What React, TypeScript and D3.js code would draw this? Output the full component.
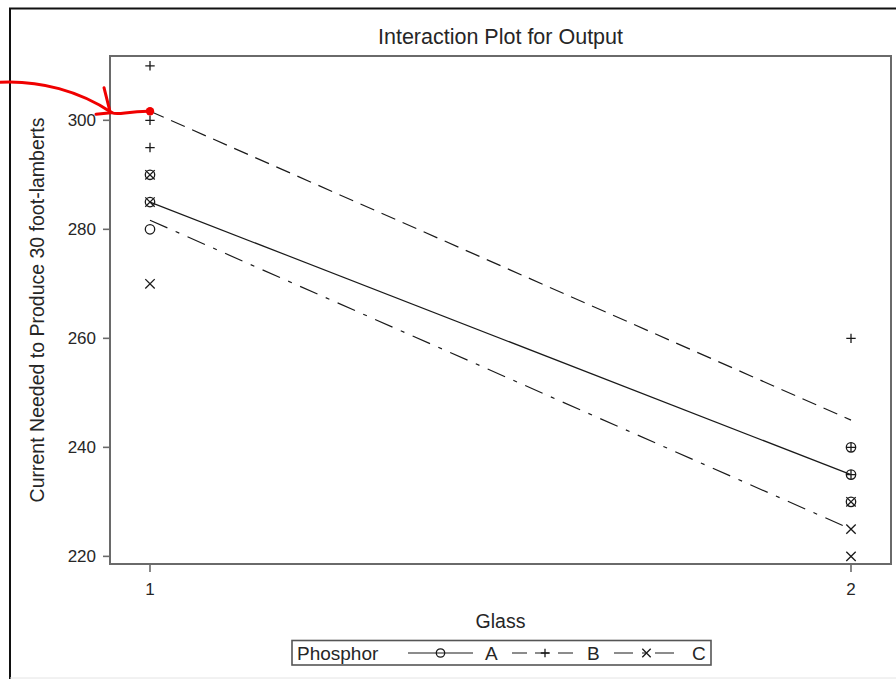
import React from "react";
import * as d3 from "d3";

// Glass type levels on the x axis
const glassLevels = [1, 2];
// Phosphor types
const phosphors = ["A", "B", "C"];
// Observed current (three replicates per cell), by phosphor, for glass 1 and glass 2
const obsA = [[280, 290, 285], [230, 235, 240]];
const obsB = [[300, 310, 295], [260, 240, 235]];
const obsC = [[270, 285, 290], [220, 225, 230]];
const yTicks = [220, 240, 260, 280, 300];

const W = 896;
const H = 679;
const plot = { left: 110, right: 891, top: 56, bottom: 564 };
const FONT = "'Liberation Sans', Arial, Helvetica, sans-serif";
const TEXT = "#262626";
const FRAME = "#6a6a6a";

const dashFor: Record<string, string | undefined> = {
  A: undefined,
  B: "15,8",
  C: "19,9,4,9",
};

function Marker({ kind, x, y, r = 4.7 }: { kind: string; x: number; y: number; r?: number }) {
  const s = { stroke: "#1a1a1a", strokeWidth: 1.3, fill: "none" };
  if (kind === "A") return <circle cx={x} cy={y} r={r} {...s} />;
  if (kind === "B")
    return (
      <path d={`M${x - r},${y}H${x + r}M${x},${y - r}V${y + r}`} {...s} />
    );
  return (
    <path
      d={`M${x - r},${y - r}L${x + r},${y + r}M${x - r},${y + r}L${x + r},${y - r}`}
      {...s}
    />
  );
}

export default function App() {
  const x = d3.scaleLinear().domain([1, 2]).range([plot.left + 40, plot.right - 40]);
  const y = d3.scaleLinear().domain([218.6, 311.8]).range([plot.bottom, plot.top]);

  const series = [
    { key: "A", obs: obsA },
    { key: "B", obs: obsB },
    { key: "C", obs: obsC },
  ].map((s) => ({
    ...s,
    means: glassLevels.map((g, i) => ({ g, v: d3.mean(s.obs[i]) as number })),
  }));

  const line = d3
    .line<{ g: number; v: number }>()
    .x((d) => x(d.g))
    .y((d) => y(d.v));

  const cx = (plot.left + plot.right) / 2;

  // red call-out pointing at the phosphor B mean for glass 1
  const bMean = series[1].means[0];
  const px = x(bMean.g);
  const py = y(bMean.v);
  const tipX = px - 38;
  const tipY = py + 1.5;

  // legend layout
  const legendItems = [
    { key: "A", x0: 408, x1: 473, tx: 485 },
    { key: "B", x0: 512, x1: 578, tx: 587 },
    { key: "C", x0: 614, x1: 679, tx: 692 },
  ];

  return (
    <svg
      width={W}
      height={H}
      style={{ position: "absolute", left: 0, top: 0, background: "#fff" }}
      fontFamily={FONT}
    >
      {/* outer frame */}
      <path d={`M10,${H}V8.5H${W}`} fill="none" stroke="#111" strokeWidth={2} />
      <line x1={10} x2={W} y1={H - 1} y2={H - 1} stroke="#e4e4e4" strokeWidth={1} />

      <text x={cx} y={43.5} textAnchor="middle" fontSize={21.5} fill={TEXT}>
        Interaction Plot for Output
      </text>

      {/* y axis */}
      {yTicks.map((t) => (
        <g key={t}>
          <line x1={plot.left - 7} x2={plot.left} y1={y(t)} y2={y(t)} stroke={FRAME} strokeWidth={1.6} />
          <text x={plot.left - 14} y={y(t)} dy="0.36em" textAnchor="end" fontSize={17} fill={TEXT}>
            {t}
          </text>
        </g>
      ))}
      <text
        transform={`translate(44,${(plot.top + plot.bottom) / 2}) rotate(-90)`}
        textAnchor="middle"
        fontSize={19.5}
        fill={TEXT}
      >
        Current Needed to Produce 30 foot-lamberts
      </text>

      {/* x axis */}
      {glassLevels.map((g) => (
        <g key={g}>
          <line x1={x(g)} x2={x(g)} y1={plot.bottom} y2={plot.bottom + 8} stroke={FRAME} strokeWidth={1.6} />
          <text x={x(g)} y={plot.bottom + 31} textAnchor="middle" fontSize={17} fill={TEXT}>
            {g}
          </text>
        </g>
      ))}
      <text x={cx} y={628} textAnchor="middle" fontSize={19.5} fill={TEXT}>
        Glass
      </text>

      {/* mean lines */}
      {series.map((s) => (
        <path
          key={s.key}
          d={line(s.means) || ""}
          fill="none"
          stroke="#1a1a1a"
          strokeWidth={1.2}
          strokeDasharray={dashFor[s.key]}
        />
      ))}

      {/* observations */}
      {series.map((s) =>
        s.obs.map((vals, i) =>
          vals.map((v, j) => (
            <Marker key={`${s.key}-${i}-${j}`} kind={s.key} x={x(glassLevels[i])} y={y(v)} />
          ))
        )
      )}

      {/* plot frame */}
      <rect
        x={plot.left}
        y={plot.top}
        width={plot.right - plot.left}
        height={plot.bottom - plot.top}
        fill="none"
        stroke={FRAME}
        strokeWidth={2}
      />

      {/* legend */}
      <rect x={292} y={640.5} width={419} height={24.5} fill="#fff" stroke="#555" strokeWidth={1.6} />
      <text x={297} y={660} fontSize={19} fill={TEXT}>
        Phosphor
      </text>
      {legendItems.map((it) => (
        <g key={it.key}>
          <line
            x1={it.x0}
            x2={it.x1}
            y1={653}
            y2={653}
            stroke="#1a1a1a"
            strokeWidth={1.2}
            strokeDasharray={dashFor[it.key]}
          />
          <Marker kind={it.key} x={(it.x0 + it.x1) / 2} y={653} r={4.2} />
          <text x={it.tx} y={660} fontSize={19} fill={TEXT}>
            {phosphors[phosphors.indexOf(it.key)]}
          </text>
        </g>
      ))}

      {/* red call-out */}
      <g fill="none" stroke="#f00000" strokeWidth={3} strokeLinecap="round" strokeLinejoin="round">
        <path d={`M0,${py - 29} C40,${py - 31} 80,${py - 20} ${tipX},${tipY}`} />
        <path d={`M${tipX - 8},${tipY - 25} L${tipX - 2},${tipY - 1}`} />
        <path d={`M${tipX - 16},${tipY + 1.5} L${tipX - 1},${tipY}`} />
        <path d={`M${tipX},${tipY} C${tipX + 6},${tipY + 3} ${tipX + 14},${py} ${px - 2},${py}`} />
      </g>
      <circle cx={px} cy={py} r={4.2} fill="#f00000" />
    </svg>
  );
}
